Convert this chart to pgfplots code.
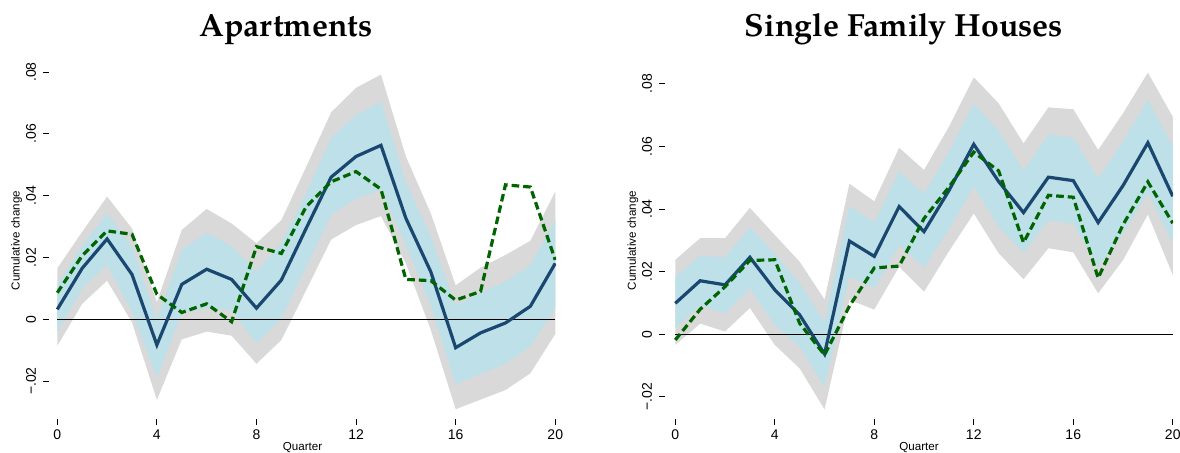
\documentclass[border=0pt]{standalone}
\usepackage{pgfplots}
\pgfplotsset{compat=1.18}
\usepackage{pgfplotstable}
\usepgfplotslibrary{fillbetween}
\usepackage{fontspec}
\setmainfont{Liberation Sans}
\newfontfamily\titlefont{TeX Gyre Pagella}
\definecolor{stnavy}{RGB}{26,71,111}
\definecolor{stgreen}{RGB}{0,100,0}
\definecolor{bandblue}{RGB}{190,224,233}
\definecolor{bandgray}{RGB}{217,217,217}

\pgfplotstableread{
q m g gu gl bu bl
0 0.0032 0.0086 0.0165 -0.0086 0.0111 -0.0040
1 0.0165 0.0206 0.0283 0.0050 0.0237 0.0100
2 0.0260 0.0286 0.0397 0.0125 0.0343 0.0176
3 0.0145 0.0275 0.0294 -0.0010 0.0235 0.0025
4 -0.0083 0.0081 0.0055 -0.0261 0.0000 -0.0188
5 0.0113 0.0022 0.0289 -0.0065 0.0224 0.0019
6 0.0162 0.0050 0.0357 -0.0040 0.0280 0.0036
7 0.0129 -0.0008 0.0310 -0.0053 0.0237 0.0030
8 0.0036 0.0235 0.0246 -0.0144 0.0154 -0.0078
9 0.0127 0.0213 0.0321 -0.0067 0.0248 0.0003
10 0.0295 0.0365 0.0494 0.0095 0.0408 0.0170
11 0.0460 0.0445 0.0670 0.0258 0.0588 0.0338
12 0.0527 0.0478 0.0749 0.0305 0.0661 0.0390
13 0.0563 0.0421 0.0792 0.0334 0.0705 0.0419
14 0.0327 0.0129 0.0527 0.0181 0.0443 0.0240
15 0.0154 0.0125 0.0343 -0.0034 0.0268 0.0046
16 -0.0092 0.0062 0.0110 -0.0291 0.0045 -0.0210
17 -0.0044 0.0090 0.0167 -0.0260 0.0085 -0.0177
18 -0.0012 0.0435 0.0208 -0.0229 0.0122 -0.0144
19 0.0042 0.0428 0.0254 -0.0175 0.0175 -0.0088
20 0.0181 0.0192 0.0413 -0.0048 0.0321 0.0038
}\apt

\pgfplotstableread{
q m g gu gl bu bl
0 0.0099 -0.0018 0.0238 -0.0034 0.0183 0.0021
1 0.0171 0.0080 0.0307 0.0034 0.0251 0.0092
2 0.0158 0.0152 0.0307 0.0009 0.0246 0.0067
3 0.0246 0.0236 0.0404 0.0084 0.0341 0.0147
4 0.0142 0.0238 0.0317 -0.0034 0.0258 0.0030
5 0.0062 0.0035 0.0232 -0.0109 0.0163 -0.0039
6 -0.0063 -0.0066 0.0111 -0.0240 0.0040 -0.0168
7 0.0298 0.0090 0.0481 0.0110 0.0409 0.0184
8 0.0249 0.0212 0.0425 0.0079 0.0357 0.0147
9 0.0408 0.0218 0.0596 0.0216 0.0521 0.0284
10 0.0328 0.0370 0.0525 0.0136 0.0449 0.0214
11 0.0459 0.0470 0.0663 0.0265 0.0583 0.0335
12 0.0607 0.0582 0.0821 0.0386 0.0737 0.0472
13 0.0488 0.0522 0.0738 0.0259 0.0650 0.0344
14 0.0389 0.0293 0.0610 0.0176 0.0524 0.0261
15 0.0502 0.0444 0.0725 0.0275 0.0637 0.0363
16 0.0491 0.0438 0.0719 0.0262 0.0629 0.0353
17 0.0357 0.0180 0.0589 0.0131 0.0498 0.0216
18 0.0475 0.0350 0.0706 0.0237 0.0617 0.0323
19 0.0612 0.0487 0.0836 0.0383 0.0749 0.0450
20 0.0441 0.0355 0.0695 0.0190 0.0600 0.0291
}\sfh

\pgfplotsset{
  panel/.style={
    scale only axis, height=178.5pt,
    anchor=south west,
    axis x line=bottom, axis y line=left,
    axis line style={draw=none},
    tick align=outside, major tick length=3pt,
    every tick/.style={black, line width=0.5pt},
    scaled y ticks=false, scaled x ticks=false,
    xtick={0,4,...,20}, xticklabels={0,4,8,12,16,20},
    ytick={-0.02,0,0.02,0.04,0.06,0.08},
    yticklabels={−.02,0,.02,.04,.06,.08},
    tick label style={font=\fontsize{7}{8}\selectfont},
    yticklabel style={rotate=90, anchor=south},
    xticklabel style={yshift=1pt},
    xlabel={Quarter}, ylabel={Cumulative change},
    label style={font=\fontsize{5.8}{7}\selectfont},
    xlabel style={at={(axis description cs:0.5,-0.079)}, anchor=center},
    no marks,
  },
}

\newcommand{\drawpanel}[1]{%
  \addplot[draw=none, forget plot, name path=gu] table[x=q,y=gu]{#1};
  \addplot[draw=none, forget plot, name path=gl] table[x=q,y=gl]{#1};
  \addplot[draw=none, forget plot, name path=bu] table[x=q,y=bu]{#1};
  \addplot[draw=none, forget plot, name path=bl] table[x=q,y=bl]{#1};
  \addplot[bandgray, draw=none] fill between[of=gu and gl];
  \addplot[bandblue, draw=none] fill between[of=bu and bl];
  \addplot[black, line width=0.6pt] coordinates {(0,0) (20,0)};
  \addplot[stnavy, line width=1.6pt] table[x=q,y=m]{#1};
  \addplot[stgreen, line width=1.6pt, dash pattern=on 3.8pt off 2pt] table[x=q,y=g]{#1};
}

\begin{document}
\begin{tikzpicture}
\begin{axis}[panel, at={(24.5pt,17pt)}, width=253.5pt,
  xmin=-0.333, xmax=20.03, ymin=-0.03227, ymax=0.08327,
  ylabel style={at={(axis description cs:-0.0641,0.5)}, anchor=center}]
\drawpanel{\apt}
\end{axis}
\begin{axis}[panel, at={(332.5pt,17pt)}, width=254pt,
  xmin=-0.414, xmax=20.01, ymin=-0.02706, ymax=0.0870,
  ylabel style={at={(axis description cs:-0.063,0.5)}, anchor=center}]
\drawpanel{\sfh}
\end{axis}
\node[anchor=base, font=\titlefont\bfseries\fontsize{16}{19}\selectfont] at (143pt,208pt) {Apartments};
\node[anchor=base, font=\titlefont\bfseries\fontsize{16}{19}\selectfont] at (452pt,208pt) {Single Family Houses};
\pgfresetboundingbox
\path[use as bounding box] (0,0) rectangle (590pt,226.5pt);
\end{tikzpicture}
\end{document}
